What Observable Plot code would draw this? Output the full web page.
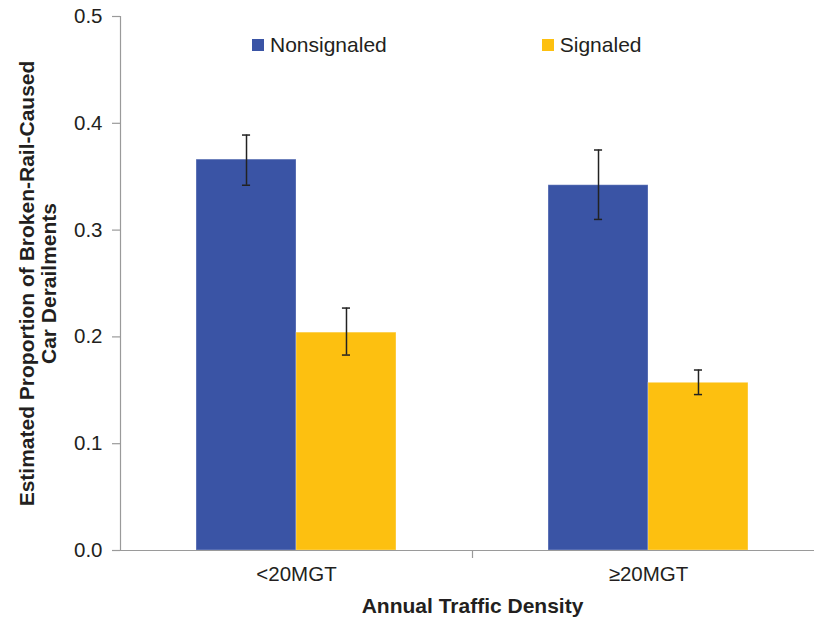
<!DOCTYPE html>
<html>
<head>
<meta charset="utf-8">
<script src="https://cdn.jsdelivr.net/npm/d3@7"></script>
<script src="https://cdn.jsdelivr.net/npm/@observablehq/plot@0.6"></script>
<style>
  html, body { margin: 0; padding: 0; background: #fff; overflow: hidden; }
  #wrap { position: relative; width: 814px; height: 619px; overflow: hidden; }
  #legend { position: absolute; left: 252px; top: 34px; display: flex; gap: 155px;
            font-family: "Liberation Sans", Arial, sans-serif; font-size: 21px; line-height: 21px; color: #231f20; }
  .item { display: flex; align-items: flex-start; }
  .sw { width: 12px; height: 12px; margin-top: 5px; margin-right: 6px; }
</style>
</head>
<body>
<div id="wrap"><div id="legend"></div></div>
<script>
// ---- data ----
const categories = ["<20MGT", "\u226520MGT"];
const series = ["Nonsignaled", "Signaled"];
const nonsignaled = [0.366, 0.342];
const signaled = [0.204, 0.157];
const nonsignaledLow = [0.342, 0.310];
const nonsignaledHigh = [0.389, 0.375];
const signaledLow = [0.183, 0.146];
const signaledHigh = [0.227, 0.169];
const colors = ["#3A54A5", "#FDC010"];
const yTicks = [0, 0.1, 0.2, 0.3, 0.4, 0.5];
const xTitle = "Annual Traffic Density";
const yTitle = "Estimated Proportion of Broken-Rail-Caused\nCar Derailments";

// ---- table ----
const values = [nonsignaled, signaled];
const lows = [nonsignaledLow, signaledLow];
const highs = [nonsignaledHigh, signaledHigh];
const barW = 0.284;   // width of one bar, as a fraction of a category slot
const capW = 0.0115;  // half width of error-bar caps, same units
const rows = [];
categories.forEach((c, i) => series.forEach((s, j) => {
  const x1 = i + 0.5 - barW + j * barW;
  rows.push({category: c, series: s, x1, x2: x1 + barW, xc: x1 + barW / 2,
             value: values[j][i], lo: lows[j][i], hi: highs[j][i]});
}));

const font = "Liberation Sans, Arial, sans-serif";
const ink = "#231f20";
const axisGray = "#9a9a9a";

const chart = Plot.plot({
  width: 814,
  height: 619,
  marginLeft: 120,
  marginRight: -10,
  marginTop: 16,
  marginBottom: 69,
  style: {fontFamily: font, fontSize: "20px", color: ink, background: "#fff"},
  x: {type: "linear", domain: [0, categories.length], axis: null},
  y: {domain: [0, 0.5], axis: null},
  color: {domain: series, range: colors},
  marks: [
    Plot.rectY(rows, {x1: "x1", x2: "x2", y: "value", fill: "series", stroke: "#fff", strokeOpacity: 0.3, strokeWidth: 1}),
    Plot.ruleX(rows, {x: "xc", y1: "lo", y2: "hi", stroke: "#222", strokeWidth: 1.5}),
    Plot.ruleY(rows, {y: "lo", x1: d => d.xc - capW, x2: d => d.xc + capW, stroke: "#222", strokeWidth: 1.5}),
    Plot.ruleY(rows, {y: "hi", x1: d => d.xc - capW, x2: d => d.xc + capW, stroke: "#222", strokeWidth: 1.5}),
    Plot.ruleY([0], {stroke: axisGray, strokeWidth: 1.2}),
    Plot.ruleX([0], {y1: 0, y2: 0.5, stroke: axisGray, strokeWidth: 1.2}),
    Plot.axisY({ticks: yTicks, tickFormat: d3.format(".1f"), tickSize: 8, tickPadding: 10,
                stroke: axisGray, strokeWidth: 1.2, fill: ink, fontSize: 20.5, label: null}),
    Plot.axisX({ticks: d3.range(1, categories.length + 1), tickFormat: () => "", tickSize: 8,
                stroke: axisGray, strokeWidth: 1.2, label: null}),
    Plot.axisX({ticks: categories.map((c, i) => i + 0.5), tickFormat: d => categories[Math.floor(d)],
                tickSize: 0, tickPadding: 16, fill: ink, fontSize: 20.5, label: null}),
    Plot.text([xTitle], {frameAnchor: "bottom", dy: 56, lineAnchor: "middle", fontWeight: "bold",
                         fontSize: 21, fill: ink}),
    Plot.text([yTitle], {frameAnchor: "left", textAnchor: "middle", rotate: -90, dx: -83, lineAnchor: "middle",
                         lineHeight: 1.05, fontWeight: "bold", fontSize: 21, fill: ink})
  ]
});
document.getElementById("wrap").prepend(chart);

// ---- legend ----
const legend = document.getElementById("legend");
series.forEach((s, j) => {
  const item = document.createElement("div");
  item.className = "item";
  const sw = document.createElement("span");
  sw.className = "sw";
  sw.style.background = colors[j];
  const t = document.createElement("span");
  t.textContent = s;
  item.append(sw, t);
  legend.append(item);
});
</script>
</body>
</html>
